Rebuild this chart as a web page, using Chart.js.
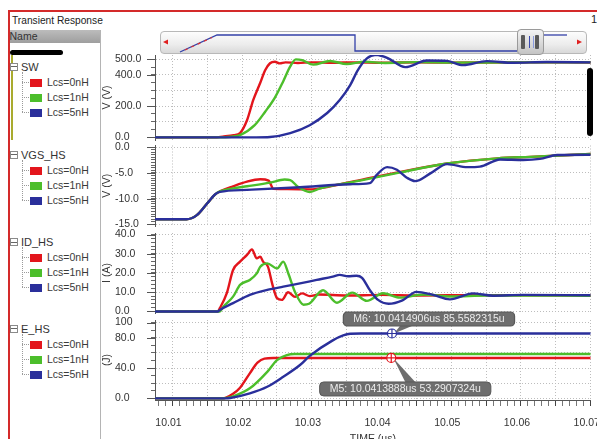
<!DOCTYPE html>
<html>
<head>
<meta charset="utf-8">
<script src="https://cdn.jsdelivr.net/npm/chart.js@4.4.1/dist/chart.umd.min.js"></script>
<style>
  html, body { margin: 0; padding: 0; width: 597px; height: 439px; overflow: hidden; background: #fff;
    font-family: "Liberation Sans", Arial, sans-serif; }
  .abs { position: absolute; }
  #frameTop { left: 8px; top: 10px; width: 589px; height: 2px; background: #d42a2a; }
  #frameLeft { left: 8px; top: 10px; width: 1.5px; height: 429px; background: #d42a2a; }
  #title { left: 12px; top: 15px; font-size: 10.2px; color: #222; }
  #corner { left: 591px; top: 13px; font-size: 11px; color: #222; }
  #nameHead { left: 9.5px; top: 30px; width: 90.5px; height: 13px; line-height: 13px; font-size: 10.5px; color: #333;
    background: linear-gradient(#bcbcbc, #9e9e9e); }
  #divider { left: 100px; top: 30px; width: 1px; height: 409px; background: #b4b4b4; }
  #redacted { left: 10px; top: 50px; width: 53px; height: 5px; background: #000; border-radius: 3px; }
  #olive { left: 10.5px; top: 55px; width: 2.5px; height: 85px; background: #a9ab2e; }
  .grp { left: 10px; font-size: 11px; color: #333; height: 14px; line-height: 14px; white-space: nowrap; }
  .grp .box { display: inline-block; width: 6px; height: 6px; border: 1px solid #8a8a8a; vertical-align: 0px;
    margin-right: 3px; background: linear-gradient(#fff 2.5px, #666 2.5px, #666 3.5px, #fff 3.5px); }
  .ent { left: 30px; font-size: 10.5px; color: #3a3a3a; height: 14px; line-height: 14px; white-space: nowrap; }
  .ent .sq { display: inline-block; width: 12px; height: 8px; margin-right: 5px; vertical-align: -0.5px; }
  .vline { width: 0; border-left: 1px dotted #9a9a9a; }
  .hline { height: 0; border-top: 1px dotted #9a9a9a; }
  #scroll { left: 160px; top: 31px; width: 425px; height: 21px; border: 1px solid #b8b8b8; border-radius: 4px;
    background: linear-gradient(#fdfdfd, #ececec 60%, #d9d9d9); }
  #thumb { left: 517px; top: 29px; width: 25px; height: 24px; border: 1px solid #9a9a9a; border-radius: 4px;
    background: linear-gradient(#f4f4f4, #c4c4c4); }
  #thumb .bar { position: absolute; top: 5px; width: 4px; height: 14px; background: #5a5a5a; border-radius: 1px; }
  #thumb .mid { position: absolute; left: 11px; top: 6px; width: 3px; height: 12px; border-left: 1.5px solid #3b4bb0; border-right: 1px solid #8899dd; }
  #blackBar { left: 587px; top: 68px; width: 6px; height: 68px; background: #000; border-radius: 3px; z-index: 5; }
  canvas { position: absolute; left: 100px; }
</style>
</head>
<body>
<div class="abs" id="frameTop"></div>
<div class="abs" id="frameLeft"></div>
<div class="abs" id="title">Transient Response</div>
<div class="abs" id="corner">1</div>
<div class="abs" id="nameHead">Name</div>
<div class="abs" id="divider"></div>
<div class="abs" id="redacted"></div>
<div class="abs" id="olive"></div>
<div id="tree"></div>

<div class="abs" id="scroll"></div>
<svg class="abs" style="left:0;top:0" width="597" height="439">
  <polyline points="180,52 217,35 355,35 355,51 517,51" fill="none" stroke="#3340a8" stroke-width="1.3"/>
  <line x1="185" y1="50" x2="212" y2="37.5" stroke="#e03030" stroke-width="1.2" stroke-dasharray="3,4"/>
  <polyline points="543,35 567,35" fill="none" stroke="#3340a8" stroke-width="1.3"/>
  <polygon points="163,42 168,39.5 168,44.5" fill="#e02020"/>
  <polygon points="582,42 577,39.5 577,44.5" fill="#e02020"/>
</svg>
<div class="abs" id="thumb"><div class="bar" style="left:3px"></div><div class="mid"></div><div class="bar" style="left:17px"></div></div>

<canvas id="pSW" width="497" height="101" style="top:47px;width:497px;height:101px"></canvas>
<canvas id="pVGS" width="497" height="97" style="top:137px;width:497px;height:97px"></canvas>
<canvas id="pID" width="497" height="96" style="top:225px;width:497px;height:96px"></canvas>
<canvas id="pE" width="497" height="140" style="top:306px;width:497px;height:140px"></canvas>
<div class="abs" id="blackBar"></div>

<script>
// ---- data ----
const timeMin = 10.0075;
const timeMax = 10.07;
const timeTickText = ['10.01', '10.02', '10.03', '10.04', '10.05', '10.06', '10.07'];

const groupNames = ['SW', 'VGS_HS', 'ID_HS', 'E_HS'];
const seriesNames = ['Lcs=0nH', 'Lcs=1nH', 'Lcs=5nH'];
const seriesColors = ['#e3151c', '#4cbe2b', '#2a2f9b'];
const axisTitles = ['V (V)', 'V (V)', 'I (A)', '(J)'];

const swTicks = [0, 200, 400, 500];
const swTickText = ['0.0', '200.0', '400.0', '500.0'];
const vgsTicks = [0, -5, -10, -15];
const vgsTickText = ['0.0', '-5.0', '-10.0', '-15.0'];
const idTicks = [0, 10, 20, 30, 40];
const idTickText = ['0.0', '10.0', '20.0', '30.0', '40.0'];
const eTicks = [0, 40, 80, 100];
const eTickText = ['0.0', '40.0', '80.0', '100'];

// [time (us), value]
const sw0 = [[10.0075,0],[10.0160,0],[10.0172,5],[10.0188,14],[10.0197,28],[10.0207,110],[10.0216,240],[10.0226,350],
  [10.0233,430],[10.0240,475],[10.0247,485],[10.0254,474],[10.0262,481],[10.0280,477],[10.0300,481],[10.0330,478],
  [10.0360,481],[10.0400,478],[10.0450,481],[10.0500,479],[10.0600,481],[10.0700,480]];
const sw1 = [[10.0075,0],[10.0165,0],[10.0185,4],[10.0197,14],[10.0218,78],[10.0233,164],[10.0247,255],[10.0259,360],
  [10.0269,455],[10.0277,500],[10.0286,495],[10.0302,466],[10.0326,490],[10.0350,470],[10.0376,485],[10.0405,477],
  [10.0450,482],[10.0500,479],[10.0600,481],[10.0700,481]];
const sw2 = [[10.0075,0],[10.0220,0],[10.0240,2],[10.0269,27],[10.0297,78],[10.0322,156],[10.0340,239],[10.0355,335],
  [10.0366,431],[10.0379,506],[10.0392,530],[10.0408,510],[10.0434,450],[10.0465,493],[10.0494,490],[10.0517,463],
  [10.0551,489],[10.0589,478],[10.0637,483],[10.0700,481]];

const vgs0 = [[10.0075,-14],[10.0120,-14],[10.0135,-13.2],[10.0150,-10.9],[10.0161,-9.2],[10.0168,-8.6],[10.0187,-7.6],
  [10.0207,-6.7],[10.0226,-6.25],[10.0238,-6.5],[10.0245,-8.1],[10.0265,-8.15],[10.0300,-8.2],[10.0315,-7.9],
  [10.0369,-6.4],[10.0427,-4.8],[10.0494,-3.2],[10.0566,-2.2],[10.0613,-1.9],[10.0700,-1.35]];
const vgs1 = [[10.0075,-14],[10.0120,-14],[10.0135,-13.2],[10.0150,-10.9],[10.0161,-9.2],[10.0168,-8.6],[10.0187,-8.0],
  [10.0207,-7.6],[10.0240,-6.9],[10.0261,-6.3],[10.0269,-6.4],[10.0280,-7.7],[10.0297,-8.7],[10.0312,-8.0],
  [10.0369,-6.5],[10.0427,-4.9],[10.0494,-3.2],[10.0566,-2.2],[10.0613,-1.9],[10.0700,-1.35]];
const vgs2 = [[10.0075,-14],[10.0120,-14],[10.0135,-13.2],[10.0150,-10.9],[10.0161,-9.2],[10.0168,-8.7],[10.0207,-8.3],
  [10.0283,-7.8],[10.0355,-7.2],[10.0383,-7.0],[10.0393,-5.4],[10.0408,-3.9],[10.0422,-4.4],[10.0437,-6.0],
  [10.0448,-6.6],[10.0470,-5.1],[10.0494,-3.3],[10.0523,-3.9],[10.0541,-3.8],[10.0570,-2.4],[10.0603,-2.5],
  [10.0627,-2.3],[10.0652,-1.55],[10.0700,-1.5]];

const id0 = [[10.0075,0],[10.0165,0],[10.0168,1.7],[10.0178,9.5],[10.0187,21.6],[10.0197,25.9],[10.0207,29.4],
  [10.0214,32.3],[10.0221,27.6],[10.0226,28.5],[10.0230,25.9],[10.0237,23.3],[10.0243,14.6],[10.0250,6.9],
  [10.0257,6.0],[10.0266,10.0],[10.0276,7.6],[10.0286,9.4],[10.0297,8.0],[10.0310,8.8],[10.0350,8.3],[10.0400,8.6],
  [10.0450,8.3],[10.0550,8.5],[10.0700,8.3]];
const id1 = [[10.0075,0],[10.0168,0],[10.0173,2.5],[10.0187,7.7],[10.0197,13.8],[10.0211,16.4],[10.0221,19.8],
  [10.0226,23.3],[10.0236,25.0],[10.0250,22.4],[10.0259,25.9],[10.0266,20.0],[10.0276,10.0],[10.0288,3.5],
  [10.0296,4.0],[10.0316,11.0],[10.0336,4.5],[10.0358,9.8],[10.0379,5.5],[10.0402,9.5],[10.0426,7.2],[10.0460,8.8],
  [10.0500,7.8],[10.0550,8.3],[10.0700,8.2]];
const id2 = [[10.0075,0],[10.0165,0],[10.0168,0.8],[10.0187,4.3],[10.0211,8.6],[10.0236,11.2],[10.0259,12.9],
  [10.0283,14.6],[10.0307,16.4],[10.0330,18.1],[10.0340,19.0],[10.0352,18.3],[10.0364,18.6],[10.0372,17.5],
  [10.0383,11.2],[10.0395,6.0],[10.0410,4.0],[10.0430,5.8],[10.0450,10.2],[10.0474,8.6],[10.0498,6.3],[10.0531,9.4],
  [10.0560,8.2],[10.0603,8.6],[10.0700,8.4]];

const e0 = [[10.0075,0],[10.0172,0],[10.0176,0.6],[10.0187,6],[10.0197,14],[10.0211,33],[10.0222,47],[10.0232,52.5],
  [10.0245,53.3],[10.0700,53.3]];
const e1 = [[10.0075,0],[10.0172,0],[10.0178,0.6],[10.0187,2.5],[10.0211,13.2],[10.0236,35],[10.0250,50.5],
  [10.0264,57],[10.0275,58.5],[10.0700,58.5]];
const e2 = [[10.0075,0],[10.0175,0],[10.0183,0.5],[10.0211,6.6],[10.0236,15.3],[10.0259,28.5],[10.0283,44],
  [10.0297,56],[10.0330,76.5],[10.0345,83],[10.0355,85.2],[10.0370,85.56],[10.0700,85.56]];

const markerNames = ['M5', 'M6'];
const markerTimes = [10.0413888, 10.0414906];
const markerValues = [53.2907324, 85.5582315];
const markerSeries = [0, 2];

// ---- legend tree ----
const groupTops = [67, 155, 242, 329];
const tree = document.getElementById('tree');
groupNames.forEach((g, gi) => {
  const top = groupTops[gi];
  const head = document.createElement('div');
  head.className = 'abs grp';
  head.style.top = (top - 7) + 'px';
  head.innerHTML = '<span class="box"></span>' + g;
  tree.appendChild(head);
  const vl = document.createElement('div');
  vl.className = 'abs vline';
  vl.style.cssText = 'left:22px;top:' + (top + 5) + 'px;height:' + 40 + 'px';
  tree.appendChild(vl);
  seriesNames.forEach((s, si) => {
    const y = top + 15 + si * 15;
    const hl = document.createElement('div');
    hl.className = 'abs hline';
    hl.style.cssText = 'left:22px;top:' + y + 'px;width:7px';
    tree.appendChild(hl);
    const ent = document.createElement('div');
    ent.className = 'abs ent';
    ent.style.top = (y - 7) + 'px';
    ent.innerHTML = '<span class="sq" style="background:' + seriesColors[si] + '"></span>' + s;
    tree.appendChild(ent);
  });
});

// ---- charts ----
Chart.defaults.font.family = '"Liberation Sans", Arial, sans-serif';
Chart.defaults.font.size = 10.5;
Chart.defaults.color = '#333';

const gridColor = '#bdbdbd';
const clear = 'rgba(0,0,0,0)';
const near = (a, b) => Math.abs(a - b) < 1e-7;
const isStep = (v, base, step) => near((v - base) / step, Math.round((v - base) / step));

const panelDecor = {
  id: 'panelDecor',
  afterDraw(chart, args, opts) {
    const { ctx, chartArea, scales } = chart;
    ctx.save();
    ctx.strokeStyle = '#555';
    ctx.lineWidth = 1;
    opts.ticks.forEach(v => {
      const y = Math.round(scales.y.getPixelForValue(v)) + 0.5;
      ctx.beginPath();
      ctx.moveTo(chartArea.left - 8, y);
      ctx.lineTo(chartArea.left, y);
      ctx.stroke();
    });
    ctx.translate(chartArea.left - 48, (chartArea.top + chartArea.bottom) / 2);
    ctx.rotate(-Math.PI / 2);
    ctx.fillStyle = '#333';
    ctx.font = '10.5px "Liberation Sans", Arial, sans-serif';
    ctx.textAlign = 'center';
    ctx.textBaseline = 'middle';
    ctx.fillText(opts.title, 0, 0);
    ctx.restore();

    if (!opts.markers) return;
    ctx.save();
    markerNames.forEach((name, i) => {
      const px = scales.x.getPixelForValue(markerTimes[i]);
      const py = scales.y.getPixelForValue(markerValues[i]);
      const text = name + ': ' + markerTimes[i].toFixed(7) + 'us ' + markerValues[i].toFixed(7) + 'u';
      ctx.font = '10.5px "Liberation Sans", Arial, sans-serif';
      const w = ctx.measureText(text).width + 20;
      const h = 14;
      const above = markerValues[i] > 70;
      const bx = px + (above ? 37 : 14) - w / 2;
      const by = above ? py - 21.5 : py + 24;
      // pointer
      ctx.fillStyle = '#6e6e6e';
      ctx.beginPath();
      ctx.moveTo(px + 2, py);
      if (above) { ctx.lineTo(px + 8, by + h); ctx.lineTo(px + 20, by + h); }
      else { ctx.lineTo(px + 14, by); ctx.lineTo(px + 24, by); }
      ctx.closePath();
      ctx.fill();
      // box
      ctx.fillStyle = '#6e6e6e';
      ctx.strokeStyle = '#585858';
      ctx.beginPath();
      ctx.roundRect(bx, by, w, h, 4);
      ctx.fill();
      ctx.stroke();
      ctx.fillStyle = '#ececec';
      ctx.textAlign = 'center';
      ctx.textBaseline = 'middle';
      ctx.fillText(text, bx + w / 2, by + h / 2 + 0.5);
      // marker
      const c = seriesColors[markerSeries[i]];
      ctx.strokeStyle = c;
      ctx.lineWidth = 1.2;
      ctx.fillStyle = '#fff';
      ctx.beginPath();
      ctx.arc(px, py, 4.5, 0, Math.PI * 2);
      ctx.fill();
      ctx.stroke();
      ctx.beginPath();
      ctx.moveTo(px - 4.5, py); ctx.lineTo(px + 4.5, py);
      ctx.moveTo(px, py - 4.5); ctx.lineTo(px, py + 4.5);
      ctx.stroke();
    });
    ctx.restore();
  }
};

function makePanel(id, series, yMin, yMax, ticks, tickText, minorStep, gridStep, title, pad, bottom) {
  const lo = Math.min(...ticks);
  const hi = Math.max(...ticks);
  return new Chart(document.getElementById(id), {
    type: 'line',
    data: {
      datasets: series.map((pts, i) => ({
        label: seriesNames[i],
        data: pts.map(p => ({ x: p[0], y: p[1] })),
        borderColor: seriesColors[i],
        borderWidth: 2.4,
        pointRadius: 0,
        cubicInterpolationMode: 'monotone',
        order: 3 - i
      }))
    },
    options: {
      responsive: false,
      animation: false,
      layout: { padding: { left: 15, right: 6.3, top: pad[0], bottom: pad[1] } },
      plugins: {
        legend: { display: false },
        tooltip: { enabled: false },
        panelDecor: { ticks: ticks, title: title, markers: bottom }
      },
      scales: {
        x: {
          type: 'linear',
          min: timeMin,
          max: timeMax,
          afterBuildTicks: s => {
            const t = [];
            for (let k = 8; k <= 70; k++) t.push({ value: 10 + k / 1000 });
            s.ticks = t;
          },
          afterFit: s => {
            s.height = bottom ? 46 : 0;
            s.paddingLeft = 0;
            s.paddingRight = 0;
          },
          grid: {
            color: c => (c.tick && c.tick.value > 10.0099 && isStep(c.tick.value, 10, 0.005)) ? gridColor : clear,
            drawTicks: bottom,
            tickLength: 6,
            tickColor: c => (c.tick && isStep(c.tick.value, 10, 0.005)) ? '#444' : '#777'
          },
          border: { display: bottom, color: '#555', dash: [1, 2] },
          ticks: {
            display: bottom,
            autoSkip: false,
            maxRotation: 0,
            padding: 11,
            labelOffset: -4,
            callback: v => {
              const t = timeTickText.find(s => near(parseFloat(s), v));
              return t || '';
            }
          },
          title: { display: bottom, text: 'TIME (us)', padding: { top: 0, bottom: 1 } }
        },
        y: {
          min: yMin,
          max: yMax,
          afterBuildTicks: s => {
            const t = [];
            const n = Math.round((hi - lo) / minorStep);
            for (let k = 0; k <= n; k++) t.push({ value: Math.round((lo + k * minorStep) * 1000) / 1000 });
            s.ticks = t;
          },
          afterFit: s => {
            s.width = 40;
            s.paddingTop = 0;
            s.paddingBottom = 0;
          },
          grid: {
            color: c => (c.tick && isStep(c.tick.value, lo, gridStep)) ? gridColor : clear,
            tickLength: 4,
            tickColor: '#666'
          },
          border: { color: '#555', dash: [1, 2] },
          ticks: {
            crossAlign: 'far',
            autoSkip: false,
            callback: v => {
              const i = ticks.findIndex(t => near(t, v));
              return i >= 0 ? tickText[i] : '';
            }
          }
        }
      }
    },
    plugins: [panelDecor]
  });
}

makePanel('pSW', [sw0, sw1, sw2], -17, 528, swTicks, swTickText, 50, 100, axisTitles[0], [8, 8], false);
makePanel('pVGS', [vgs0, vgs1, vgs2], -15.3, 0.3, vgsTicks, vgsTickText, 0.5, 5, axisTitles[1], [8.5, 8], false);
makePanel('pID', [id0, id1, id2], -0.8, 40.8, idTicks, idTickText, 2, 10, axisTitles[2], [8, 8], false);
makePanel('pE', [e0, e1, e2], -2.2, 103.4, eTicks, eTickText, 10, 20, axisTitles[3], [14, 0], true);
</script>
</body>
</html>
